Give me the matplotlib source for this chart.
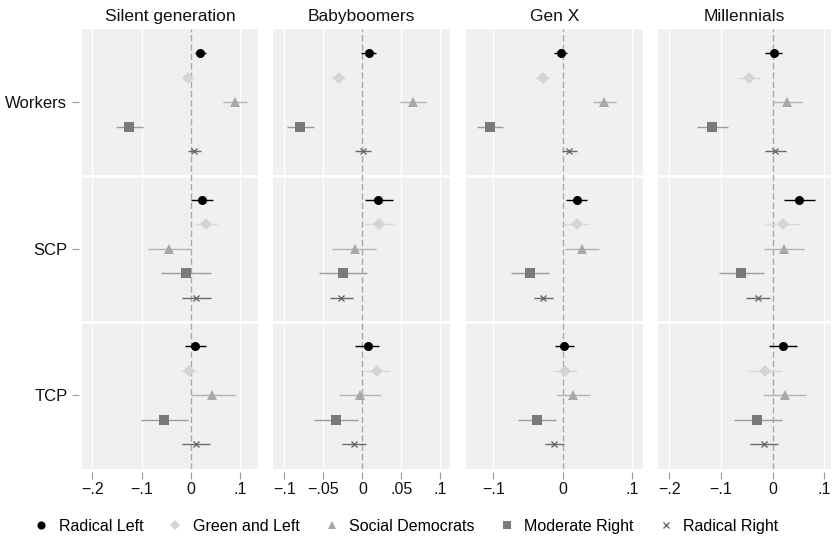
import matplotlib
matplotlib.use("Agg")
import matplotlib.pyplot as plt
from matplotlib.lines import Line2D
import numpy as np

plt.rcParams['font.family'] = ['Liberation Sans', 'DejaVu Sans']

generations = ["Silent generation", "Babyboomers", "Gen X", "Millennials"]
classes = ["Workers", "SCP", "TCP"]
parties = ["Radical Left", "Green and Left", "Social Democrats", "Moderate Right", "Radical Right"]

# estimates per class (rows: Workers, SCP, TCP; columns: parties)
silent_est = [[0.018, -0.007, 0.090, -0.125, 0.007],
              [0.0215, 0.030, -0.045, -0.010, 0.011],
              [0.009, -0.004, 0.043, -0.0545, 0.010]]
silent_lo = [[0.008, -0.013, 0.065, -0.152, -0.007],
             [-0.001, 0.009, -0.088, -0.061, -0.0175],
             [-0.012, -0.021, -0.001, -0.102, -0.0175]]
silent_hi = [[0.030, -0.001, 0.114, -0.098, 0.021],
             [0.044, 0.053, -0.001, 0.040, 0.040],
             [0.030, 0.013, 0.089, -0.006, 0.038]]

boomers_est = [[0.008, -0.030, 0.065, -0.0795, 0.001],
               [0.0205, 0.021, -0.010, -0.025, -0.0274],
               [0.0068, 0.0184, -0.003, -0.0338, -0.0107]]
boomers_lo = [[-0.0013, -0.040, 0.0487, -0.096, -0.009],
              [0.003, 0.002, -0.039, -0.056, -0.042],
              [-0.009, 0.0017, -0.0295, -0.0624, -0.026]]
boomers_hi = [[0.0175, -0.0205, 0.082, -0.062, 0.0107],
              [0.039, 0.040, 0.018, 0.0064, -0.0124],
              [0.022, 0.036, 0.0235, -0.0056, 0.0043]]

genx_est = [[-0.003, -0.029, 0.060, -0.1046, 0.0096],
            [0.020, 0.020, 0.028, -0.047, -0.028],
            [0.0024, 0.0034, 0.0153, -0.037, -0.0125]]
genx_lo = [[-0.012, -0.040, 0.043, -0.124, -0.0005],
           [0.005, 0.002, 0.004, -0.074, -0.041],
           [-0.011, -0.0144, -0.0077, -0.065, -0.026]]
genx_hi = [[0.006, -0.018, 0.076, -0.086, 0.020],
           [0.035, 0.038, 0.052, -0.020, -0.0144],
           [0.016, 0.021, 0.039, -0.0096, 0.0014]]

mill_est = [[0.002, -0.046, 0.028, -0.117, 0.005],
            [0.051, 0.019, 0.022, -0.062, -0.029],
            [0.019, -0.0147, 0.023, -0.0295, -0.0173]]
mill_lo = [[-0.014, -0.067, 0.0013, -0.147, -0.015],
           [0.022, -0.015, -0.017, -0.1045, -0.052],
           [-0.0077, -0.047, -0.018, -0.075, -0.043]]
mill_hi = [[0.0186, -0.024, 0.056, -0.087, 0.025],
           [0.081, 0.053, 0.0615, -0.017, -0.005],
           [0.047, 0.018, 0.065, 0.0186, 0.0096]]

x_ticks = [[-0.2, -0.1, 0.0, 0.1],
           [-0.1, -0.05, 0.0, 0.05, 0.1],
           [-0.1, 0.0, 0.1],
           [-0.2, -0.1, 0.0, 0.1]]
x_ticklabels = [["\u2212.2", "\u2212.1", "0", ".1"],
                ["\u2212.1", "\u2212.05", "0", ".05", ".1"],
                ["\u2212.1", "0", ".1"],
                ["\u2212.2", "\u2212.1", "0", ".1"]]
x_limits = [(-0.221, 0.1364), (-0.1141, 0.1124), (-0.1387, 0.1155), (-0.2213, 0.1128)]

all_est = [silent_est, boomers_est, genx_est, mill_est]
all_lo = [silent_lo, boomers_lo, genx_lo, mill_lo]
all_hi = [silent_hi, boomers_hi, genx_hi, mill_hi]

markers = ['o', 'D', '^', 's', 'x']
msizes = [6.5, 6.0, 6.5, 6.5, 5.0]
mcolors = ['#000000', '#D4D4D4', '#A8A8A8', '#7A7A7A', '#6A6A6A']
lcolors = ['#000000', '#D9D9D9', '#B2B2B2', '#9C9C9C', '#6A6A6A']

W, H = 832, 543
fig = plt.figure(figsize=(W / 100, H / 100), dpi=100)
fig.patch.set_facecolor('white')

lefts = [82, 273.3, 466.3, 658.3]
rights = [258.3, 450, 643, 831]
top_px, bot_px = 29, 468.5

bg = '#EFF0EF'
for g in range(4):
    ax = fig.add_axes([lefts[g] / W, (H - bot_px) / H, (rights[g] - lefts[g]) / W, (bot_px - top_px) / H])
    ax.set_facecolor(bg)
    for s in ax.spines.values():
        s.set_visible(False)
    ax.spines['bottom'].set_position(('outward', 2.5))
    ax.spines['left'].set_position(('outward', 2.5))
    ax.set_xlim(*x_limits[g])
    ax.set_ylim(18, 0)
    # grid lines
    for t in x_ticks[g]:
        if t != 0:
            ax.axvline(t, color='white', lw=1.0, zorder=1)
    for yb in [6, 12]:
        ax.axhline(yb, color='white', lw=2.0, zorder=1)
    ax.axvline(0, color='#A9A9A9', lw=1.0, dashes=(4.5, 2.2), zorder=2)
    est, lo, hi = all_est[g], all_lo[g], all_hi[g]
    for c in range(3):
        for p in range(5):
            y = c * 6 + p + 1
            e = est[c][p]
            xerr = [[e - lo[c][p]], [hi[c][p] - e]]
            ax.errorbar([e], [y], xerr=xerr, fmt='none', ecolor=lcolors[p], elinewidth=1.0,
                        capsize=0, zorder=3)
            ax.plot([e], [y], marker=markers[p], ms=msizes[p], color=mcolors[p],
                    mec=mcolors[p], mew=1.0 if markers[p] == 'x' else 0, ls='none', zorder=4)
    ax.set_xticks(x_ticks[g])
    ax.set_xticklabels(x_ticklabels[g])
    ax.tick_params(axis='x', length=5, width=0.8, color='#999999', labelsize=11.5,
                   labelcolor='#111111', pad=2.5)
    if g == 0:
        ax.set_yticks([3, 9, 15])
        ax.set_yticklabels(classes)
        ax.tick_params(axis='y', length=5, width=0.8, color='#999999', labelsize=12,
                       labelcolor='#111111', pad=3)
    else:
        ax.set_yticks([])
    ax.set_title(generations[g], fontsize=12.5, color='#111111', pad=5.5)

handles = [Line2D([], [], marker=markers[p], ms=msizes[p] * 0.9, color=mcolors[p],
                  mec=mcolors[p], mew=1.0 if markers[p] == 'x' else 0, ls='none')
           for p in range(5)]
fig.legend(handles, parties, loc='center', bbox_to_anchor=(0.488, 0.031), ncol=5,
           frameon=False, fontsize=11.5, handlelength=1.0, handletextpad=0.6,
           columnspacing=1.5)

fig.savefig('out.png', dpi=100, facecolor='white')
